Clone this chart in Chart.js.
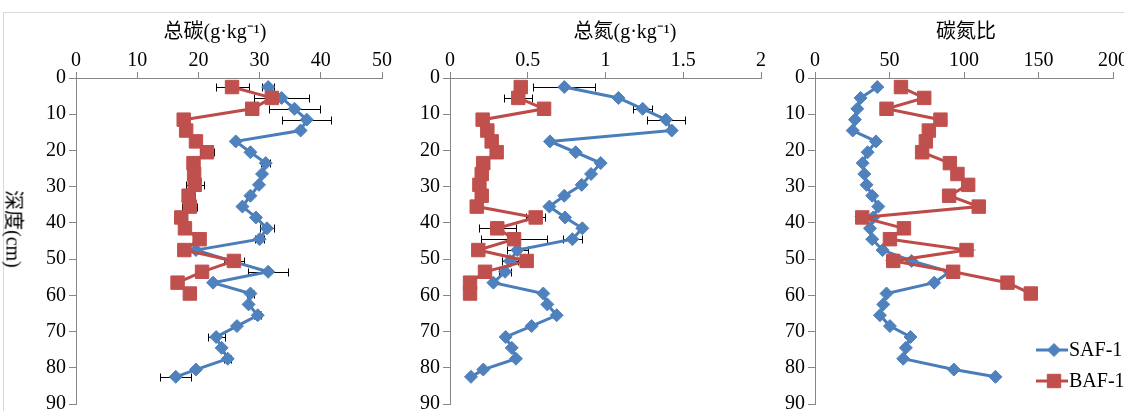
<!DOCTYPE html>
<html>
<head>
<meta charset="utf-8">
<script src="https://cdn.jsdelivr.net/npm/chart.js@4.4.1/dist/chart.umd.min.js"></script>
<style>
  html, body { margin: 0; padding: 0; width: 1124px; height: 411px; overflow: hidden; background: #fff; }
  #frame { position: absolute; left: 3px; top: 12px; width: 1300px; height: 600px; border: 1px solid #d9d9d9; }
  canvas { position: absolute; top: 0; }
  #c1 { left: 0; }
  #c2 { left: 400px; }
  #c3 { left: 780px; }
  #ylab {
    position: absolute; left: 15px; top: 229px;
    transform: translate(-50%, -50%) rotate(90deg);
    font: 20px 'Liberation Serif', 'Noto Sans CJK SC', serif;
    white-space: nowrap; color: #000;
  }
</style>
</head>
<body>
<div id="frame"></div>
<canvas id="c1" width="400" height="417"></canvas>
<canvas id="c2" width="380" height="417"></canvas>
<canvas id="c3" width="368" height="417"></canvas>
<div id="ylab">深度(cm)</div>

<script>
/* ── data (depth in cm) ── */
const DEPTH_SAF = [2.5, 5.5, 8.5, 11.5, 14.5, 17.5, 20.5, 23.5, 26.5, 29.5, 32.5, 35.5, 38.5, 41.5,
                   44.5, 47.5, 50.5, 53.5, 56.5, 59.5, 62.5, 65.5, 68.5, 71.5, 74.5, 77.5, 80.5, 82.5];
const DEPTH_BAF = [2.5, 5.5, 8.5, 11.5, 14.5, 17.5, 20.5, 23.5, 26.5, 29.5, 32.5, 35.5, 38.5, 41.5,
                   44.5, 47.5, 50.5, 53.5, 56.5, 59.5];

// 总碳 g/kg
const TC_SAF = [31.4, 33.6, 35.7, 37.7, 36.7, 26.1, 28.5, 31.0, 30.4, 29.9, 28.5, 27.2, 29.4, 31.2,
                30.0, 19.6, 25.3, 31.4, 22.4, 28.5, 28.2, 29.7, 26.3, 22.9, 23.8, 24.8, 19.6, 16.3];
const TC_SAF_ERR = [1.0, 4.5, 4.1, 4.0, 0, 0, 0, 0.7, 0, 0, 0, 0, 0, 1.2,
                    0.7, 0, 0, 3.3, 0, 0.6, 0, 0.6, 0, 1.4, 0, 0.6, 0, 2.5];
const TC_BAF = [25.5, 32.0, 28.8, 17.6, 18.0, 19.6, 21.4, 19.2, 19.3, 19.4, 18.4, 18.6, 17.2, 17.8,
                20.2, 17.7, 25.8, 20.6, 16.6, 18.6];
const TC_BAF_ERR = [2.7, 0, 0, 0, 0, 0, 1.1, 0, 0, 1.5, 1.1, 1.2, 0, 0,
                    0, 0, 1.6, 0, 0, 1.0];

// 总氮 g/kg
const TN_SAF = [0.735, 1.083, 1.239, 1.389, 1.426, 0.643, 0.808, 0.969, 0.907, 0.847, 0.735, 0.639, 0.740, 0.851,
                0.787, 0.433, 0.386, 0.354, 0.279, 0.600, 0.626, 0.686, 0.525, 0.358, 0.397, 0.424, 0.214, 0.135];
const TN_SAF_ERR = [0.20, 0, 0.06, 0.12, 0, 0, 0, 0, 0, 0, 0, 0, 0, 0,
                    0.06, 0.066, 0.05, 0.04, 0, 0, 0, 0, 0, 0, 0, 0, 0, 0];
const TN_BAF = [0.455, 0.439, 0.605, 0.210, 0.240, 0.268, 0.300, 0.214, 0.204, 0.189, 0.204, 0.172, 0.551, 0.304,
                0.412, 0.182, 0.493, 0.225, 0.129, 0.129];
const TN_BAF_ERR = [0, 0.09, 0, 0, 0, 0, 0, 0, 0, 0, 0, 0, 0.06, 0.12,
                    0.21, 0, 0, 0, 0, 0];

// 碳氮比
const CN_SAF = [41.8, 30.6, 28.4, 26.8, 25.3, 40.9, 35.3, 32.0, 33.1, 34.6, 38.4, 42.5, 39.1, 36.9,
                38.4, 45.4, 64.8, 90.5, 80.0, 48.0, 45.8, 43.6, 50.3, 64.1, 61.0, 59.2, 93.2, 121.1];
const CN_BAF = [57.7, 73.3, 48.0, 84.2, 76.4, 74.4, 71.9, 90.5, 95.6, 102.8, 90.0, 109.9, 31.7, 59.7,
                50.3, 101.7, 52.5, 92.7, 129.2, 144.8];

const SERIES_NAMES = ['SAF-1', 'BAF-1'];

const SERIF = "'Liberation Serif', 'Noto Sans CJK SC', serif";
const BLUE = '#4A7EBB', BLUE_M = '#4F81BD';
const RED = '#BE4B48', RED_M = '#C0504D';
const AXIS = '#868686';

const pairs = (xs, ys) => xs.map((v, i) => ({ x: v, y: ys[i] }));

/* ── error bars, drawn under the series ── */
const errorBars = {
  id: 'errorBars',
  beforeDatasetsDraw(chart) {
    const ctx = chart.ctx;
    const xs = chart.scales.x;
    ctx.save();
    ctx.strokeStyle = '#000';
    ctx.lineWidth = 1;
    chart.data.datasets.forEach((ds, di) => {
      if (!ds.errors) return;
      const meta = chart.getDatasetMeta(di);
      ds.data.forEach((p, i) => {
        const e = ds.errors[i];
        if (!e) return;
        const y = Math.round(meta.data[i].y) + 0.5;
        const x0 = Math.round(xs.getPixelForValue(p.x - e)) + 0.5;
        const x1 = Math.round(xs.getPixelForValue(p.x + e)) + 0.5;
        ctx.beginPath();
        ctx.moveTo(x0, y); ctx.lineTo(x1, y);
        ctx.moveTo(x0, y - 4); ctx.lineTo(x0, y + 4);
        ctx.moveTo(x1, y - 4); ctx.lineTo(x1, y + 4);
        ctx.stroke();
      });
    });
    ctx.restore();
  },
};

/* ── panel title, placed like the Excel original (not always centred on the plot) ── */
const panelTitle = {
  id: 'panelTitle',
  afterDraw(chart, args, opts) {
    const ctx = chart.ctx;
    ctx.save();
    ctx.fillStyle = '#000';
    ctx.font = '20px ' + SERIF;
    ctx.textAlign = 'center';
    ctx.textBaseline = 'middle';
    ctx.fillText(opts.text, opts.x, opts.y);
    ctx.restore();
  },
};

/* ── legend at lower right of the last panel ── */
const sideLegend = {
  id: 'sideLegend',
  afterDraw(chart, args, opts) {
    if (!opts.show) return;
    const ctx = chart.ctx;
    const order = [1, 0]; // dataset indexes: SAF-1, BAF-1
    order.forEach((di, k) => {
      const ds = chart.data.datasets[di];
      const y = opts.y[k];
      ctx.save();
      ctx.strokeStyle = ds.borderColor;
      ctx.lineWidth = ds.borderWidth;
      ctx.beginPath();
      ctx.moveTo(opts.x0, y); ctx.lineTo(opts.x1, y);
      ctx.stroke();
      ctx.fillStyle = ds.pointBackgroundColor;
      ctx.strokeStyle = ds.pointBorderColor;
      ctx.lineWidth = 1;
      Chart.helpers.drawPoint(ctx, { pointStyle: ds.pointStyle, radius: ds.pointRadius, rotation: 0, borderWidth: 1 }, opts.xm, y);
      ctx.fillStyle = '#000';
      ctx.font = '20px ' + SERIF;
      ctx.textBaseline = 'middle';
      ctx.fillText(ds.label, opts.x1 + 1, y + 1);
      ctx.restore();
    });
  },
};

function makePanel(id, p) {
  const ctx = document.getElementById(id);
  return new Chart(ctx, {
    type: 'scatter',
    data: {
      datasets: [
        {
          label: SERIES_NAMES[1], order: 1,
          data: pairs(p.bafX, DEPTH_BAF), errors: p.bafErr,
          showLine: true, borderColor: RED, borderWidth: 3,
          pointStyle: 'rect', pointRadius: 9.5, pointBackgroundColor: RED_M, pointBorderColor: RED_M, pointBorderWidth: 1,
        },
        {
          label: SERIES_NAMES[0], order: 2,
          data: pairs(p.safX, DEPTH_SAF), errors: p.safErr,
          showLine: true, borderColor: BLUE, borderWidth: 3,
          pointStyle: 'rectRot', pointRadius: 6.5, pointBackgroundColor: BLUE_M, pointBorderColor: BLUE_M, pointBorderWidth: 1,
        },
      ],
    },
    options: {
      responsive: false,
      animation: false,
      events: [],
      layout: { padding: { left: 0, right: p.padRight, top: 0, bottom: 3 } },
      plugins: {
        legend: { display: false },
        tooltip: { enabled: false },
        title: { display: false },
        panelTitle: { text: p.title, x: p.titleX, y: 33 },
        sideLegend: p.legend || { show: false },
      },
      scales: {
        x: {
          type: 'linear', position: 'top', min: p.min, max: p.max,
          afterFit: s => { s.height = 78; },
          ticks: {
            stepSize: p.step, color: '#000', padding: 1,
            font: { family: SERIF, size: 20, lineHeight: 1 },
            callback: v => String(v),
          },
          grid: { drawOnChartArea: false, tickLength: 6, color: AXIS },
          border: { color: AXIS },
        },
        y: {
          type: 'linear', reverse: true, min: 0, max: 90,
          afterFit: s => { s.width = p.yWidth; },
          ticks: { stepSize: 10, color: '#000', padding: 3, font: { family: SERIF, size: 20, lineHeight: 1 } },
          grid: { drawOnChartArea: false, tickLength: 7, color: AXIS },
          border: { color: AXIS },
        },
      },
    },
    plugins: [errorBars, panelTitle, sideLegend],
  });
}

makePanel('c1', {
  title: '总碳(g·kg⁻¹)', titleX: 215, min: 0, max: 50, step: 10,
  safX: TC_SAF, safErr: TC_SAF_ERR, bafX: TC_BAF, bafErr: TC_BAF_ERR,
  yWidth: 76, padRight: 18,
});

makePanel('c2', {
  title: '总氮(g·kg⁻¹)', titleX: 225, min: 0, max: 2, step: 0.5,
  safX: TN_SAF, safErr: TN_SAF_ERR, bafX: TN_BAF, bafErr: TN_BAF_ERR,
  yWidth: 50, padRight: 19,
});

makePanel('c3', {
  title: '碳氮比', titleX: 186, min: 0, max: 200, step: 50,
  safX: CN_SAF, safErr: null, bafX: CN_BAF, bafErr: null,
  yWidth: 35, padRight: 35,
  legend: { show: true, x0: 256, x1: 288, xm: 274, y: [350, 381] },
});
</script>
</body>
</html>
